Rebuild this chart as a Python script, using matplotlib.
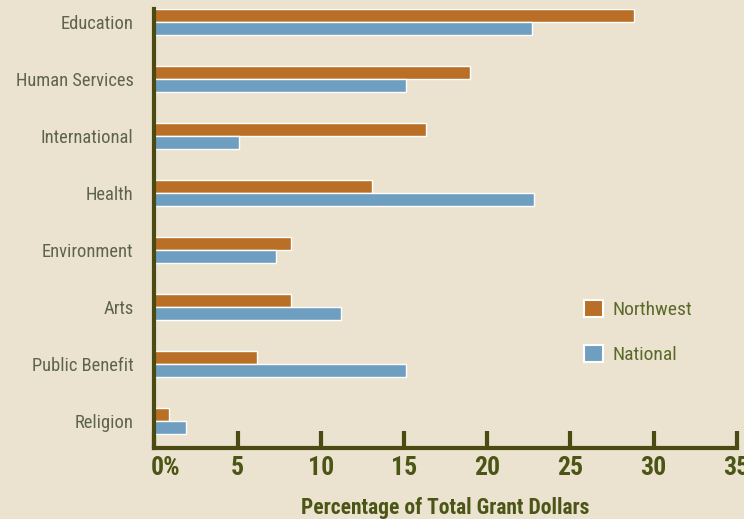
import matplotlib
matplotlib.use("Agg")
import matplotlib.pyplot as plt
from matplotlib.patches import Patch
import matplotlib.transforms as mtransforms
import numpy as np

categories = ["Education", "Human Services", "International", "Health",
              "Environment", "Arts", "Public Benefit", "Religion"]
northwest = [28.8, 19.0, 16.3, 13.1, 8.2, 8.2, 6.2, 0.9]
national = [22.7, 15.1, 5.1, 22.8, 7.3, 11.2, 15.1, 1.9]
xticks = [0, 5, 10, 15, 20, 25, 30, 35]
xticklabels = ["0%", "5", "10", "15", "20", "25", "30", "35"]
series_names = ["Northwest", "National"]

BG = "#ebe3cf"
ORANGE = "#b96f26"
BLUE = "#6f9fc0"
AXIS = "#4a4a12"
TICKTXT = "#4b5516"
CATTXT = "#5e6448"
LEGTXT = "#5a6a2a"

plt.rcParams["font.family"] = ["Roboto Condensed", "DejaVu Sans"]

fig = plt.figure(figsize=(7.44, 5.19), dpi=100, facecolor=BG)
W, H = 744, 519
left, right, bottom, top = 154.3, 736.7, 448, 9
ax = fig.add_axes([left / W, 1 - bottom / H, (right - left) / W, (bottom - top) / H])
ax.set_facecolor(BG)

y = np.arange(len(categories))
h = 0.235
ax.barh(y - h / 2, northwest, height=h, color=ORANGE, edgecolor="white", linewidth=1.0, zorder=2)
ax.barh(y + h / 2, national, height=h, color=BLUE, edgecolor="white", linewidth=1.0, zorder=2)

ax.set_xlim(0, 35)
ax.set_ylim(7.474, -0.228)

for s in ["top", "right"]:
    ax.spines[s].set_visible(False)
for s in ["left", "bottom"]:
    ax.spines[s].set_color(AXIS)
    ax.spines[s].set_linewidth(3)
ax.spines["left"].set_zorder(3)

ax.set_yticks(y)
ax.set_yticklabels(categories, fontsize=13.3, color=CATTXT)
ax.tick_params(axis="y", length=0, pad=15)

ax.set_xticks(xticks)
ax.set_xticklabels(xticklabels, fontsize=18.5, fontweight="bold", color=TICKTXT)
ax.tick_params(axis="x", direction="in", length=12, width=3, color=AXIS, pad=6)
first = ax.get_xticklabels()[0]
first.set_horizontalalignment("left")
first.set_transform(first.get_transform() + mtransforms.ScaledTranslation(-4 / 100, 0, fig.dpi_scale_trans))

ax.set_xlabel("Percentage of Total Grant Dollars", fontsize=15.5, fontweight="bold",
              color=TICKTXT, labelpad=12)

handles = [Patch(facecolor=ORANGE, edgecolor="white", linewidth=1.5),
           Patch(facecolor=BLUE, edgecolor="white", linewidth=1.5)]
leg = fig.legend(handles, series_names, loc="upper left",
                 bbox_to_anchor=(584 / W, 1 - 300 / H), frameon=False,
                 fontsize=14, handlelength=0.98, handleheight=0.98,
                 handletextpad=0.46, labelspacing=1.33, borderpad=0, borderaxespad=0)
for t in leg.get_texts():
    t.set_color(LEGTXT)

fig.savefig("out.png", dpi=100, facecolor=BG)
